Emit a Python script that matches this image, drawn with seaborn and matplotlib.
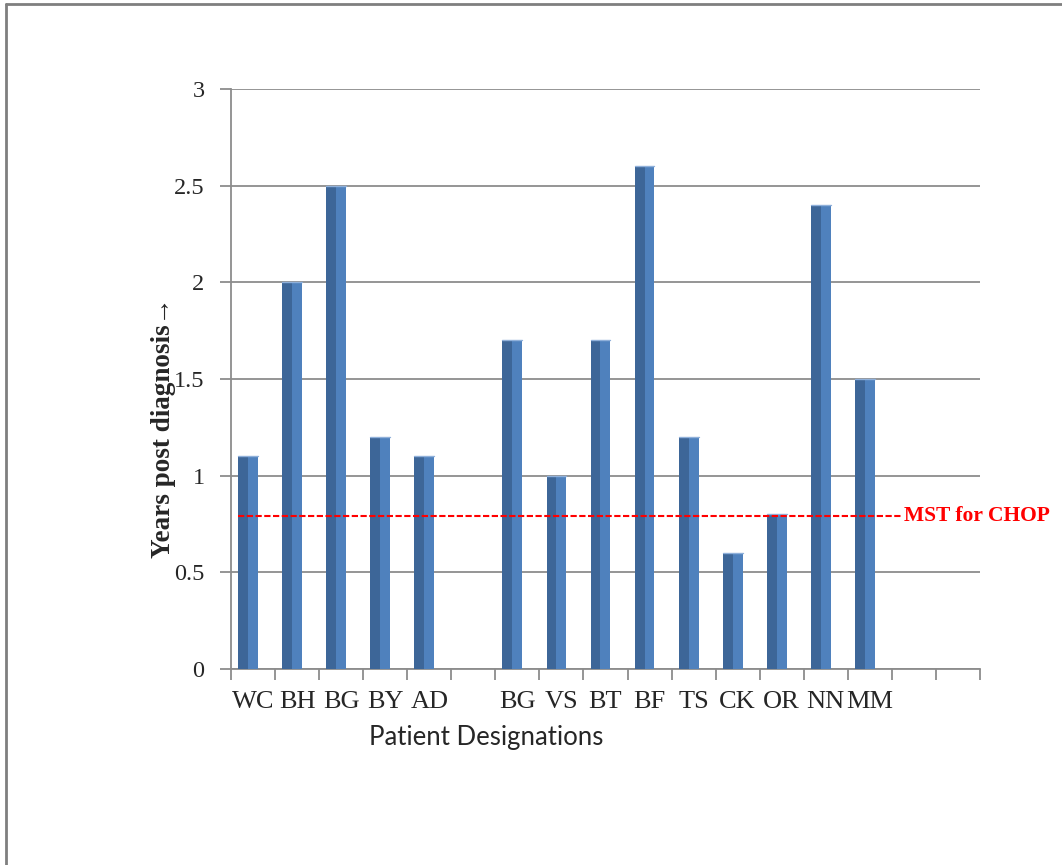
import numpy as np
import pandas as pd
import matplotlib
matplotlib.use("Agg")
import matplotlib.pyplot as plt
import seaborn as sns
from matplotlib.patches import Rectangle
from matplotlib.lines import Line2D

# ---- data ----
labels = ["WC", "BH", "BG", "BY", "AD", "", "BG", "VS", "BT", "BF", "TS", "CK", "OR", "NN", "MM", "", ""]
years = [1.1, 2.0, 2.5, 1.2, 1.1, np.nan, 1.7, 1.0, 1.7, 2.6, 1.2, 0.6, 0.8, 2.4, 1.5, np.nan, np.nan]
mst_value = 0.79
mst_label = "MST for CHOP"
y_ticks = [0, 0.5, 1, 1.5, 2, 2.5, 3]
y_tick_labels = ["0", "0.5", "1", "1.5", "2", "2.5", "3"]

sns.set_theme(style="white")
plt.rcParams["font.family"] = ["Liberation Serif", "DejaVu Serif"]

light = "#4F81BD"
dark = "#3D6698"
grid_c = "#8C8C8C"

df = pd.DataFrame({"slot": list(range(len(labels))), "years": years})

fig = plt.figure(figsize=(10.62, 8.65), dpi=100)
W, H = 1062, 865
ax = fig.add_axes([231 / W, 1 - 669 / H, (980 - 231) / W, (669 - 89) / H])

sns.barplot(data=df, x="slot", y="years", order=list(range(len(labels))),
            color=light, saturation=1, width=0.45, ax=ax, errorbar=None, zorder=3)

shift = -0.114
for p in list(ax.patches):
    h = p.get_height()
    if h is None or np.isnan(h) or h == 0:
        continue
    p.set_x(p.get_x() + shift)
    p.set_edgecolor("none")
    ax.add_patch(Rectangle((p.get_x(), 0), p.get_width() / 2, h,
                           facecolor=dark, edgecolor="none", zorder=3.1))
    ax.plot([p.get_x(), p.get_x() + p.get_width()], [h, h], color="#8FB0DA", lw=1.0, zorder=3.2)

n = len(labels)
ax.set_xlim(-0.5, n - 0.5)
ax.set_ylim(0, 3)

# grid
ax.set_yticks(y_ticks)
ax.set_yticklabels(y_tick_labels, fontsize=17.5)
ax.yaxis.grid(True, color=grid_c, lw=1.3, zorder=0)
ax.xaxis.grid(False)
ax.set_axisbelow(True)

# x ticks: major at boundaries, minor at centres with labels
ax.set_xticks(np.arange(-0.5, n, 1.0))
ax.set_xticklabels([])
ax.set_xticks(np.arange(n), minor=True)
ax.set_xticklabels(labels, minor=True, fontsize=19)
ax.tick_params(axis="x", which="major", length=8, width=1.3, color=grid_c, direction="out", bottom=True)
ax.tick_params(axis="x", which="minor", length=0, pad=16)
ax.tick_params(axis="y", length=8, width=1.3, color=grid_c, direction="out", left=True, pad=11)

for s in ["top", "right"]:
    ax.spines[s].set_visible(False)
for s in ["left", "bottom"]:
    ax.spines[s].set_color(grid_c)
    ax.spines[s].set_linewidth(1.3)

ax.set_xlabel("")
ax.set_ylabel("")

# MST line
ax.plot([-0.34, 14.75], [mst_value, mst_value], color="red", lw=1.5,
        linestyle=(0, (3, 1.2)), zorder=4)
ax.text(14.78, mst_value, mst_label, color="red", fontsize=15.5, fontweight="bold",
        ha="left", va="center", zorder=5, clip_on=False)

# axis titles
fig.text(164 / W, 1 - 428 / H, "Years post diagnosis\u2192", rotation=90, ha="center", va="center",
         fontsize=19.5, fontweight="bold", family=["Liberation Serif", "DejaVu Serif"])
fig.text(486 / W, 1 - 738 / H, "Patient Designations", ha="center", va="center",
         fontsize=18.5, family=["Lato", "DejaVu Sans"])

# outer frame
fig.add_artist(Line2D([6 / W, 6 / W], [0, 1 - 4 / H], color="#7F7F7F", lw=2, transform=fig.transFigure))
fig.add_artist(Line2D([6 / W, 1], [1 - 4 / H, 1 - 4 / H], color="#7F7F7F", lw=2, transform=fig.transFigure))

fig.savefig("out.png", dpi=100)
